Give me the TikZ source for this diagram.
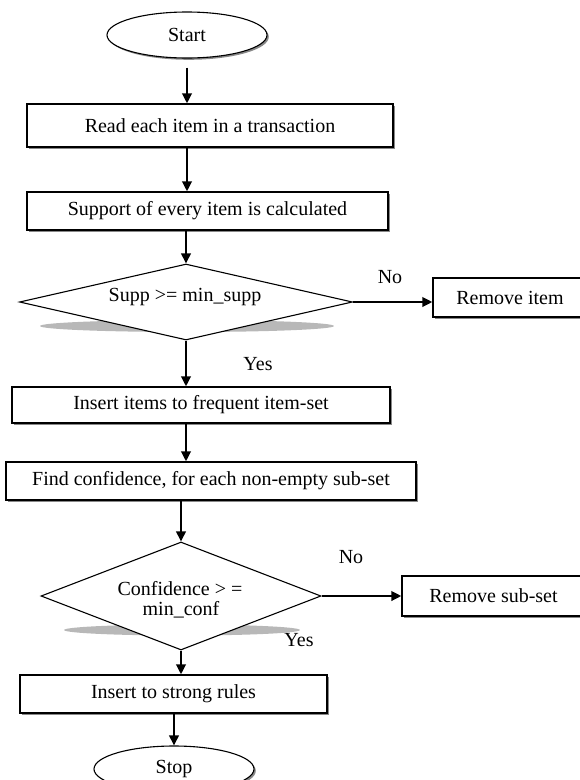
\documentclass[tikz,border=0pt]{standalone}
\usepackage{fontspec}
\setmainfont{Liberation Serif}
\usetikzlibrary{shapes.geometric,arrows.meta,shadows}
\begin{document}
\begin{tikzpicture}[x=1pt,y=-1pt,
  font=\fontsize{20}{22}\selectfont,
  boxshadow/.style={drop shadow={shadow xshift=1.8pt,shadow yshift=-1.8pt,fill=black!55,opacity=0.85}},
  procbox/.style={draw,line width=1.3pt,fill=white,rectangle,inner sep=0pt,boxshadow},
  term/.style={draw,line width=1.1pt,fill=white,ellipse,minimum width=160pt,minimum height=46pt,inner sep=0pt,boxshadow},
  decbox/.style={draw,line width=1.1pt,fill=white,diamond,inner sep=0pt},
  flow/.style={line width=2.2pt,-{Triangle[length=10pt,width=9.5pt]}},
  lbl/.style={inner sep=0pt,align=center},
  lens/.style={fill=black!28}]
\useasboundingbox (0,0) rectangle (579,780);

% terminals and process boxes
\node[term] (start) at (187,35) {Start};
\node[procbox,minimum width=366pt,minimum height=43pt] (b1) at (210,125.5) {Read each item in a transaction};
\node[procbox,minimum width=361pt,minimum height=38pt] (b2) at (207.5,211) {Support of every item is calculated};

% decision 1
\fill[lens] (187,326) ellipse [x radius=147pt, y radius=6pt];
\node[decbox,minimum width=333pt,minimum height=76pt] (d1) at (186,302) {};
\node[lbl] (t1) at (185,297) {Supp >= min\_supp};
\node[lbl] (no1) at (390,277) {No};
\node[lbl] (yes1) at (258,364) {Yes};
\node[procbox,minimum width=154pt,minimum height=39pt] (rm1) at (510,297.5) {Remove item};

\node[procbox,minimum width=378pt,minimum height=36pt] (b3) at (201,405) {Insert items to frequent item-set};
\node[procbox,minimum width=410pt,minimum height=38pt] (b4) at (211,481) {Find confidence, for each non-empty sub-set};

% decision 2
\fill[lens] (182,630) ellipse [x radius=118pt, y radius=5.5pt];
\node[decbox,minimum width=280pt,minimum height=108pt] (d2) at (181,596) {};
\node[lbl] (t2) at (180,589) {Confidence > =};
\node[lbl] (t3) at (181,610) {min\_conf};
\node[lbl] (no2) at (351,557) {No};
\node[lbl] (yes2) at (299,640) {Yes};
\node[procbox,minimum width=183pt,minimum height=40pt] (rm2) at (493.5,596) {Remove sub-set};

\node[procbox,minimum width=307pt,minimum height=38pt] (b5) at (173.5,694) {Insert to strong rules};
\node[term] (stop) at (174,769) {Stop};

% connectors
\draw[flow,shorten <=9pt] (start.south) -- (start.south |- b1.north);
\draw[flow] (b1.south -| start.center) -- (b2.north -| start.center);
\draw[flow] (b2.south -| d1.north) -- (d1.north);
\draw[flow] (d1.east) -- (d1.east -| rm1.west);
\draw[flow] (d1.south) -- (d1.south |- b3.north);
\draw[flow] (b3.south -| d1.south) -- (b4.north -| d1.south);
\draw[flow] (b4.south -| d2.north) -- (d2.north);
\draw[flow] (d2.east) -- (d2.east -| rm2.west);
\draw[flow] (d2.south) -- (d2.south |- b5.north);
\draw[flow] (b5.south -| stop.north) -- (stop.north);
\end{tikzpicture}
\end{document}
